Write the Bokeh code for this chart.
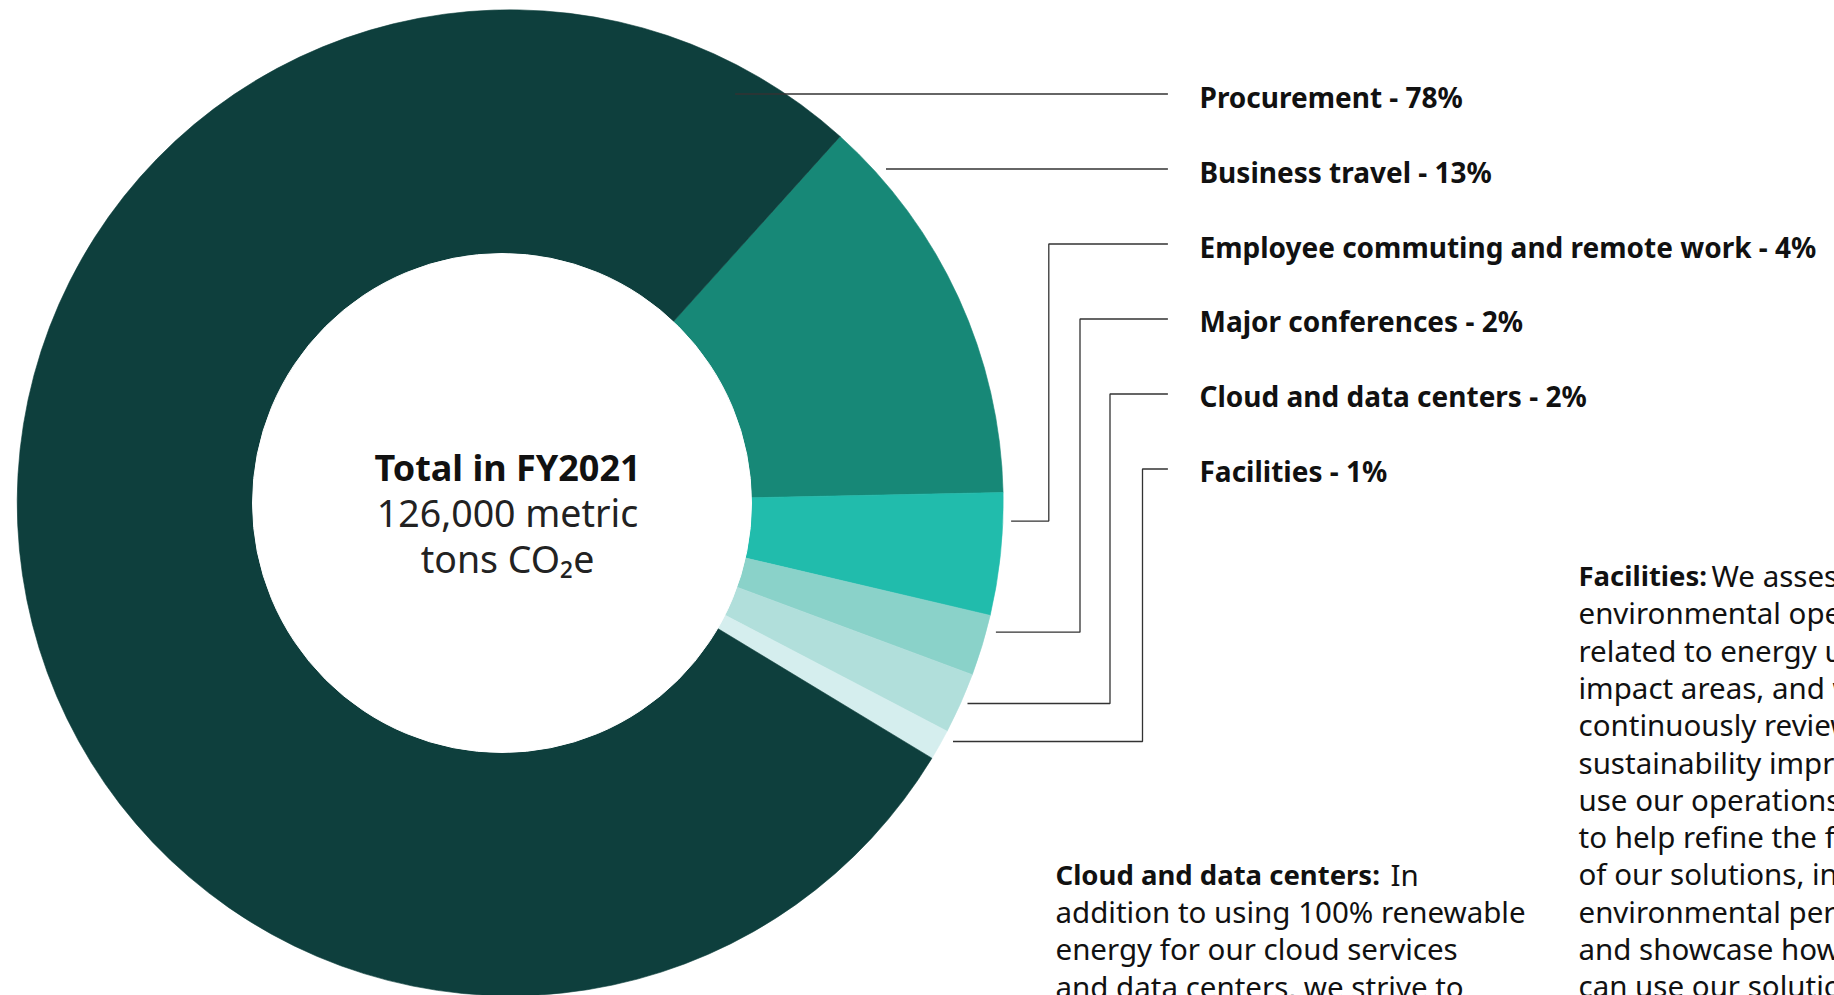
import math
from bokeh.plotting import figure
from bokeh.models import Range1d
from bokeh.embed import file_html
from bokeh.resources import INLINE
from bokeh.core.properties import value

# ---------------- data ----------------
categories = ["Procurement", "Business travel", "Employee commuting and remote work",
              "Major conferences", "Cloud and data centers", "Facilities"]
shares = [78, 13, 4, 2, 2, 1]
colors = ["#0e3f3d", "#178877", "#21bcac", "#8ad2c9", "#b1dfdb", "#d5eeee"]

center_title = "Total in FY2021"
center_lines = ["126,000 metric", "tons CO\u2082e"]

cloud_head = "Cloud and data centers:"
cloud_first = "In"
cloud_lines = ["addition to using 100% renewable",
               "energy for our cloud services",
               "and data centers, we strive to"]

fac_head = "Facilities:"
fac_first = "We assess our"
fac_lines = ["environmental operations",
             "related to energy use, key",
             "impact areas, and we",
             "continuously review",
             "sustainability improvements. We",
             "use our operations",
             "to help refine the functionality",
             "of our solutions, including",
             "environmental performance,",
             "and showcase how customers",
             "can use our solutions to"]

# ---------------- layout (pixels, y measured from top) ----------------
W, H = 1834, 995
CX, CY, R = 509.7, 502.3, 493.0          # pie centre / outer radius
HX, HY, HR = 501.5, 502.5, 249.5         # hole
ANCHOR = 48.0                            # degrees, boundary procurement / business travel
FONT = "Noto Sans"


def Y(v):
    return H - v


p = figure(width=W, height=H, x_range=Range1d(0, W), y_range=Range1d(0, H),
           output_backend="svg", toolbar_location=None, min_border=0)
p.axis.visible = False
p.grid.visible = False
p.outline_line_color = None
p.background_fill_color = "white"
p.border_fill_color = "white"

# wedges: business travel ... facilities clockwise from the anchor, then procurement
order = list(range(1, len(categories))) + [0]
theta = math.radians(ANCHOR)
starts, ends, cols = [], [], []
for i in order:
    span = shares[i] / sum(shares) * 2 * math.pi
    lo = theta - span
    starts.append(lo)
    ends.append(theta)
    cols.append(colors[i])
    theta = lo

p.wedge(x=[CX] * len(order), y=[Y(CY)] * len(order), radius=R,
        start_angle=starts, end_angle=ends, fill_color=cols,
        line_color=cols, line_width=0.6)
p.circle(x=[HX], y=[Y(HY)], radius=HR, fill_color="white", line_color="white")

# leader lines
LINE_RIGHT = 1167.4
line_y = [93.5 + 75 * i for i in range(len(categories))]
elbow_x = [None, None, 1048.3, 1079.5, 1109.5, 1142.0]
end_pts = [(734.6, None), (885.5, None), (1010.6, 520.6), (995.4, 631.7),
           (967.0, 703.0), (952.5, 741.0)]
xs, ys = [], []
for i in range(len(categories)):
    ex, ey = end_pts[i]
    if elbow_x[i] is None:
        xs.append([ex, LINE_RIGHT])
        ys.append([Y(line_y[i]), Y(line_y[i])])
    else:
        xs.append([LINE_RIGHT, elbow_x[i], elbow_x[i], ex])
        ys.append([Y(line_y[i]), Y(line_y[i]), Y(ey), Y(ey)])
p.multi_line(xs=xs, ys=ys, line_color="#333333", line_width=1.3)

# labels
labels = [f"{c} - {s}%" for c, s in zip(categories, shares)]
p.text(x=[1199] * len(labels), y=[Y(96.5 + 74.8 * i) for i in range(len(labels))],
       text=labels, text_font=value(FONT), text_font_style="bold",
       text_font_size="28px", text_color="#111111",
       text_align="left", text_baseline="alphabetic")

# centre text
p.text(x=[507], y=[Y(467)], text=[center_title], text_font=value(FONT),
       text_font_style="bold", text_font_size="36px", text_color="#111111",
       text_align="center", text_baseline="alphabetic")
p.text(x=[507, 507], y=[Y(512), Y(557.5)], text=center_lines, text_font=value(FONT),
       text_font_style="normal", text_font_size="37.5px", text_color="#222222",
       text_align="center", text_baseline="alphabetic")

# paragraphs
BODY = "29.5px"
HEAD = "27.5px"
LH = 37.3


def paragraph(x0, base0, head, head_w, first, rest):
    p.text(x=[x0], y=[Y(base0)], text=[head], text_font=value(FONT),
           text_font_style="bold", text_font_size=HEAD, text_color="#111111",
           text_align="left", text_baseline="alphabetic")
    p.text(x=[x0 + head_w] + [x0] * len(rest),
           y=[Y(base0)] + [Y(base0 + LH * (k + 1)) for k in range(len(rest))],
           text=[first] + rest, text_font=value(FONT), text_font_style="normal",
           text_font_size=BODY, text_color="#111111",
           text_align="left", text_baseline="alphabetic")


paragraph(1055, 873.8, cloud_head, 335, cloud_first, cloud_lines)
paragraph(1578, 575.0, fac_head, 133, fac_first, fac_lines)

open("out.html", "w").write(file_html(p, INLINE))
